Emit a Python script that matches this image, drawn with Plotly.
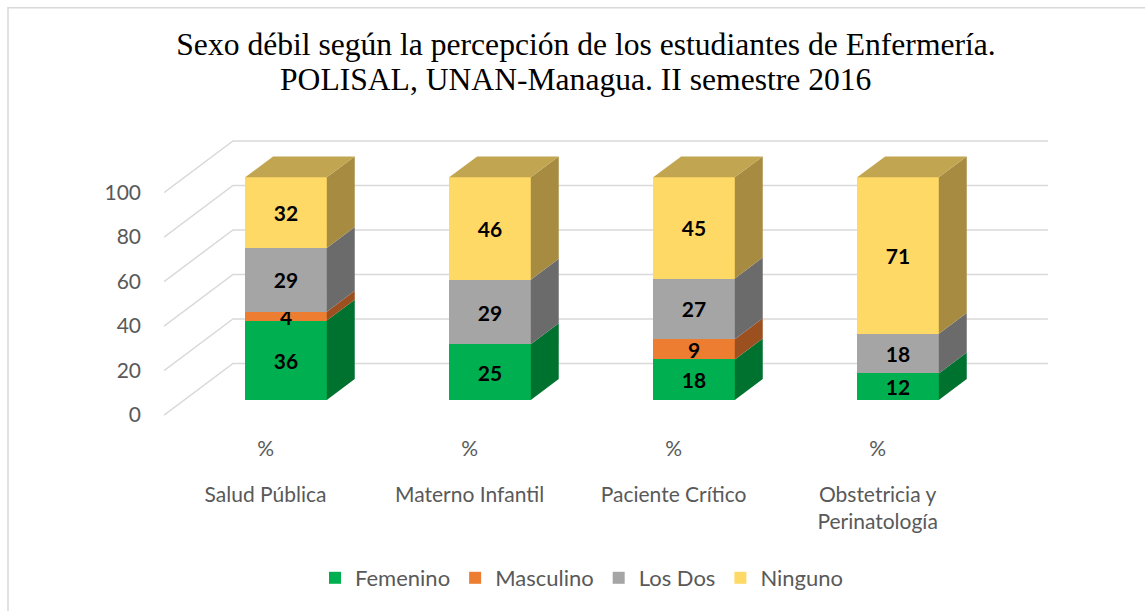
import plotly.graph_objects as go

# ---------------- data ----------------
categories = ["Salud Pública", "Materno Infantil", "Paciente Crítico", "Obstetricia y Perinatología"]
category_tick_labels = ["Salud Pública", "Materno Infantil", "Paciente Crítico", "Obstetricia y<br>Perinatología"]
unit_labels = ["%", "%", "%", "%"]
series_names = ["Femenino", "Masculino", "Los Dos", "Ninguno"]
femenino = [36, 25, 18, 12]
masculino = [4, 0, 9, 0]
los_dos = [29, 29, 27, 18]
ninguno = [32, 46, 45, 71]
y_ticks = [0, 20, 40, 60, 80, 100]

title_line1 = "Sexo débil según la percepción de los estudiantes de Enfermería."
title_line2 = "POLISAL, UNAN-Managua. II semestre 2016"

# ---------------- style ----------------
front_colors = ["#00B050", "#ED7D31", "#A5A5A5", "#FFD966"]
side_colors = ["#00722F", "#9C5020", "#6B6B6B", "#A68B40"]
top_colors = ["#008A3E", "#B55E25", "#7F7F7F", "#C1A551"]
GRID_COLOR = "#D9D9D9"
TEXT_GREY = "#595959"
SANS = "Lato"

BAR_W = 0.4          # bar width in category units
DX, DY = 0.137, 9.4  # 3D depth offset of bar faces (x units, y units)
X0, X1 = -0.598, 3.750
Y0, Y1 = -12.63, 121.29
GRID_FRONT_DY = -6.83   # front end of floor/wall grid diagonals
GRID_BACK_DY = 16.38    # back wall offset
GRID_BACK_X = -0.26
GRID_RIGHT_X = 3.735
TICK_SHIFT = -0.1       # category labels sit slightly left (perspective)

series = [femenino, masculino, los_dos, ninguno]
xs = list(range(len(categories)))
totals = [sum(s[i] for s in series) for i in xs]

fig = go.Figure()
for name, vals, col in zip(series_names, series, front_colors):
    fig.add_trace(go.Bar(
        x=xs, y=vals, name=name, width=BAR_W,
        marker=dict(color=col, line=dict(width=0)),
        text=[str(v) if v else "" for v in vals],
        textposition="inside", insidetextanchor="middle", textangle=0,
        textfont=dict(family=SANS, size=21, color="black", weight="bold"),
        customdata=categories,
        hovertemplate="%{customdata}<br>" + name + ": %{text}%<extra></extra>",
    ))

# dummy trace so the second (category-name) x axis is drawn
fig.add_trace(go.Scatter(x=[None], y=[None], xaxis="x2", yaxis="y",
                         showlegend=False, hoverinfo="skip"))

shapes = []
# back wall + floor grid lines (drawn behind bars)
for t in y_ticks:
    path = (f"M{X0},{t + GRID_FRONT_DY} L{GRID_BACK_X},{t + GRID_BACK_DY} "
            f"L{GRID_RIGHT_X},{t + GRID_BACK_DY}")
    shapes.append(dict(type="path", path=path, xref="x", yref="y",
                       line=dict(color=GRID_COLOR, width=1.5), layer="below"))

# 3D side and top faces computed from the (normalised) stacked values
for i in xs:
    cum = 0.0
    last_k = 0
    for k, vals in enumerate(series):
        v = vals[i] * 100.0 / totals[i]
        if v > 0:
            xr = i + BAR_W / 2
            path = (f"M{xr},{cum} L{xr + DX},{cum + DY} L{xr + DX},{cum + v + DY} "
                    f"L{xr},{cum + v} Z")
            shapes.append(dict(type="path", path=path, xref="x", yref="y",
                               fillcolor=side_colors[k], line=dict(width=0), layer="above"))
            last_k = k
        cum += v
    xl, xr = i - BAR_W / 2, i + BAR_W / 2
    path = f"M{xl},{cum} L{xr},{cum} L{xr + DX},{cum + DY} L{xl + DX},{cum + DY} Z"
    shapes.append(dict(type="path", path=path, xref="x", yref="y",
                       fillcolor=top_colors[last_k], line=dict(width=0), layer="above"))

# chart border
shapes.append(dict(type="rect", xref="paper", yref="paper",
                   x0=(8 - 164) / 887, x1=(1160 - 164) / 887,
                   y0=(430 - 630) / 300, y1=(430 - 7) / 300,
                   line=dict(color=GRID_COLOR, width=1.5), fillcolor="rgba(0,0,0,0)",
                   layer="below"))

fig.update_layout(
    width=1145, height=611,
    margin=dict(l=164, r=94, t=130, b=181, pad=0),
    barmode="stack", barnorm="percent",
    paper_bgcolor="white", plot_bgcolor="white",
    title=dict(text=title_line1, x=586 / 1145, xanchor="center", xref="container",
               y=1 - 44 / 611, yanchor="middle", yref="container",
               font=dict(family="Liberation Serif", size=31.6, color="black")),
    annotations=[dict(text=title_line2, xref="paper", yref="paper",
                      x=(575 - 164) / 887, xanchor="center",
                      y=(430 - 79) / 300, yanchor="middle", showarrow=False,
                      font=dict(family="Liberation Serif", size=31.6, color="black"))],
    xaxis=dict(range=[X0, X1], tickmode="array",
               tickvals=[i + TICK_SHIFT for i in xs], ticktext=unit_labels,
               showgrid=False, zeroline=False, showline=False, ticks="",
               ticklabelstandoff=6,
               tickfont=dict(family=SANS, size=21, color=TEXT_GREY)),
    xaxis2=dict(range=[X0, X1], overlaying="x", anchor="free", position=0, side="bottom",
                tickmode="array", tickvals=[i + TICK_SHIFT for i in xs],
                ticktext=category_tick_labels,
                showgrid=False, zeroline=False, showline=False, ticks="",
                ticklabelstandoff=52,
                tickfont=dict(family=SANS, size=21, color=TEXT_GREY)),
    yaxis=dict(range=[Y0, Y1], tickmode="array",
               tickvals=[t + GRID_FRONT_DY for t in y_ticks],
               ticktext=[str(t) for t in y_ticks],
               showgrid=False, zeroline=False, showline=False, ticks="",
               ticklabelstandoff=22,
               tickfont=dict(family=SANS, size=21, color=TEXT_GREY)),
    legend=dict(orientation="h", traceorder="normal",
                x=(315 - 164) / 887, xanchor="left",
                y=(430 - 581) / 300, yanchor="middle",
                font=dict(family=SANS, size=22, color=TEXT_GREY),
                bgcolor="rgba(0,0,0,0)"),
    uniformtext=dict(minsize=21, mode="show"),
    shapes=shapes,
    showlegend=True,
)

fig.write_html("out.html", config={"displayModeBar": False},
               post_script="document.body.style.margin='0';")
